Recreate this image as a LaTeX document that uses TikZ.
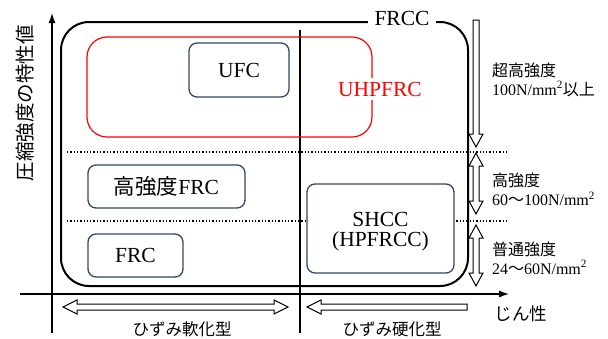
\documentclass[tikz,border=0pt]{standalone}
\usepackage{fontspec}
\setmainfont{Liberation Serif}
\newfontfamily\jp{Noto Sans CJK JP}
\usetikzlibrary{arrows.meta}
\definecolor{boxblue}{RGB}{52,70,102}
\newcommand\hvdown[3]{\draw[hollow] (#1-3,#2) -- (#1-3,#3-13) -- (#1-7,#3-13) -- (#1,#3) -- (#1+7,#3-13) -- (#1+3,#3-13) -- (#1+3,#2) -- cycle;}
\newcommand\hvdouble[3]{\draw[hollow] (#1,#2) -- (#1+7,#2+13) -- (#1+3,#2+13) -- (#1+3,#3-13) -- (#1+7,#3-13) -- (#1,#3) -- (#1-7,#3-13) -- (#1-3,#3-13) -- (#1-3,#2+13) -- (#1-7,#2+13) -- cycle;}
\newcommand\hhdouble[3]{\draw[hollow] (#2,#1) -- (#2+14,#1-7) -- (#2+14,#1-3) -- (#3-14,#1-3) -- (#3-14,#1-7) -- (#3,#1) -- (#3-14,#1+7) -- (#3-14,#1+3) -- (#2+14,#1+3) -- (#2+14,#1+7) -- cycle;}
\newcommand\hhleft[3]{\draw[hollow] (#2,#1) -- (#2+14,#1-7) -- (#2+14,#1-3) -- (#3,#1-3) -- (#3,#1+3) -- (#2+14,#1+3) -- (#2+14,#1+7) -- cycle;}
\begin{document}
\begin{tikzpicture}[x=1pt,y=-1pt,
  every node/.style={inner sep=0pt, outer sep=0pt},
  matbox/.style={draw=boxblue, line width=1.3pt, rounded corners=8pt, fill=white},
  big/.style={font=\fontsize{21.5}{20}\selectfont},
  hollow/.style={draw=black, line width=1pt, fill=white},
  lbl/.style={font=\fontsize{16}{19}\selectfont, align=left, anchor=west},
  axis/.style={line width=1.2pt, -{Latex[length=10pt,width=7pt]}},
  dots/.style={line width=1.3pt, dotted}]
\useasboundingbox (0,0) rectangle (608,338);
% dotted strength limits
\coordinate (d1a) at (67,152); \coordinate (d1b) at (508,152);
\coordinate (d2a) at (67,221); \coordinate (d2b) at (508,221);
\draw[dots] (d1a) -- (d1b);
\draw[dots] (d2a) -- (d2b);
% divider
\coordinate (divtop) at (300,30); \coordinate (divbot) at (300,333);
\draw[line width=1.3pt] (divtop) -- (divbot);
% FRCC outer box
\draw[line width=2pt, rounded corners=28pt] (61,22) rectangle (468,286);
\node[big, fill=white, inner xsep=7pt, inner ysep=2pt] (frcc) at (402,18) {FRCC};
% UHPFRC
\draw[red, line width=1.2pt, rounded corners=20pt] (87,37) rectangle (372,137);
\node[big, red, fill=white, inner xsep=2pt, inner ysep=4pt] (uhpfrc) at (380,89) {UHPFRC};
% material boxes
\node[matbox, big, minimum width=100pt, minimum height=54pt] (ufc) at (239,70) {UFC};
\node[matbox, big, minimum width=157pt, minimum height=43pt] (hsfrc) at (166.5,186.5) {{\jp 高強度}FRC};
\node[matbox, big, minimum width=95pt, minimum height=43pt] (frc) at (135.5,255.5) {FRC};
\node[matbox, minimum width=147pt, minimum height=89pt] (shcc) at (380.5,228.5) {};
\node[big, align=center] (shcctxt) at (380.5,232) {SHCC\\(HPFRCC)};
% right strength arrows
\hvdown{476}{20}{147}
\hvdouble{476}{153}{214}
\hvdouble{476}{225}{286}
\node[lbl] (s1) at (492,79.5) {{\jp 超高強度}\\100N/mm\textsuperscript{2}{\jp 以上}};
\node[lbl] (s2) at (492,189.5) {{\jp 高強度}\\60{\jp ～}100N/mm\textsuperscript{2}};
\node[lbl] (s3) at (492,258) {{\jp 普通強度}\\24{\jp ～}60N/mm\textsuperscript{2}};
% bottom arrows
\hhdouble{307}{63}{288}
\hhleft{307}{307}{467}
\node[font=\jp\fontsize{16.5}{19}\selectfont] (soft) at (182,329) {ひずみ軟化型};
\node[font=\jp\fontsize{16.5}{19}\selectfont] (hard) at (392,329) {ひずみ硬化型};
% axes
\coordinate (yb) at (52,333); \coordinate (yt) at (52,13);
\coordinate (xl) at (20,294); \coordinate (xr) at (509,294);
\draw[axis] (yb) -- (yt);
\draw[axis] (xl) -- (xr);
\node[font=\jp\fontsize{17.5}{20}\selectfont] (xlabel) at (521,314) {じん性};
\node[font=\jp\fontsize{19.5}{22}\selectfont, rotate=90] (ylabel) at (25,103) {圧縮強度の特性値};
\end{tikzpicture}
\end{document}
